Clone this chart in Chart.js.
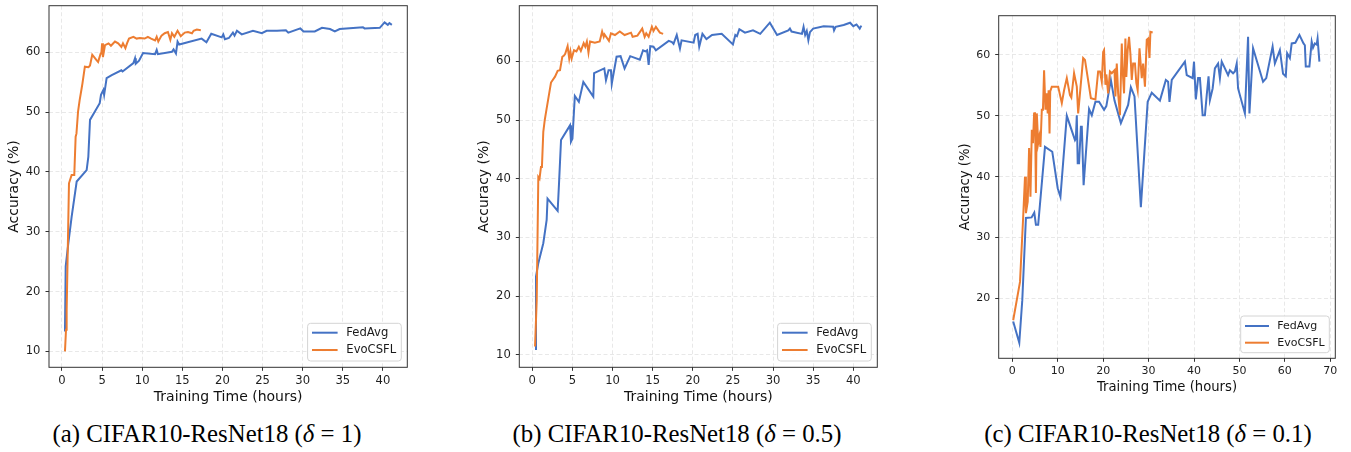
<!DOCTYPE html>
<html>
<head>
<meta charset="utf-8">
<script src="https://cdn.jsdelivr.net/npm/chart.js@4.4.1/dist/chart.umd.min.js"></script>
<style>
  body { margin: 0; width: 1351px; height: 452px; background: #fff; position: relative; overflow: hidden; }
  canvas { position: absolute; top: 0; }
  .caption { position: absolute; top: 420px; line-height: 28px; font-family: 'Liberation Serif', 'Times New Roman', serif;
             font-size: 24.8px; white-space: nowrap; transform: translateX(-50%); color: #000; }
</style>
</head>
<body>
<canvas id="chartA" width="450" height="406" style="left:0px"></canvas>
<canvas id="chartB" width="450" height="406" style="left:470px"></canvas>
<canvas id="chartC" width="401" height="395" style="left:950px"></canvas>
<div class="caption" style="left:207px">(a) CIFAR10-ResNet18 (<i>δ</i> = 1)</div>
<div class="caption" style="left:677px">(b) CIFAR10-ResNet18 (<i>δ</i> = 0.5)</div>
<div class="caption" style="left:1148px">(c) CIFAR10-ResNet18 (<i>δ</i> = 0.1)</div>
<script>
// ---- data ----
const seriesNames = ['FedAvg', 'EvoCSFL'];
const xTicksAB = [0, 5, 10, 15, 20, 25, 30, 35, 40];
const yTicksAB = [10, 20, 30, 40, 50, 60];
const xTicksC = [0, 10, 20, 30, 40, 50, 60, 70];
const yTicksC = [20, 30, 40, 50, 60];

// (a) delta = 1
const fedAvgA_hours = [0.37, 0.46, 0.79, 1.2, 1.83, 3.07, 3.28, 3.49, 4.1, 4.7, 4.86, 5.0, 5.15, 5.25, 5.56, 6.2, 7.4, 7.55, 8.9, 9.1, 9.2, 9.6, 10.1, 11.6, 11.8, 11.95, 13.7, 13.9, 14.2, 14.4, 14.6, 17.4, 18.0, 18.6, 19.9, 20.1, 20.3, 20.8, 21.3, 21.5, 21.8, 22.4, 23.8, 24.9, 25.5, 26.8, 27.9, 28.2, 29.7, 30.1, 31.5, 32.4, 33.4, 34.0, 34.6, 37.5, 37.7, 39.6, 40.2, 40.6, 40.8, 41.1];
const fedAvgA_acc   = [13.3, 24.2, 28.1, 32.5, 38.4, 40.3, 42.5, 48.7, 50.1, 51.5, 52.9, 53.3, 53.7, 52.9, 55.7, 56.2, 57.0, 56.8, 58.2, 59.0, 58.1, 58.6, 59.9, 59.7, 60.4, 59.7, 60.1, 60.5, 59.8, 61.8, 61.3, 62.3, 61.7, 63.1, 62.5, 63.0, 62.2, 62.4, 63.3, 62.8, 63.6, 63.0, 63.6, 63.2, 63.6, 63.6, 63.7, 63.3, 64.0, 63.5, 63.5, 64.1, 63.9, 63.5, 63.9, 64.2, 64.0, 64.1, 65.0, 64.6, 64.9, 64.6];
const evoA_hours = [0.37, 0.5, 0.58, 0.87, 1.2, 1.53, 1.7, 1.8, 2.0, 2.2, 2.45, 2.55, 2.85, 3.3, 3.49, 3.77, 4.3, 4.5, 4.82, 4.9, 5.0, 5.1, 5.36, 5.8, 6.1, 6.6, 7.0, 7.4, 7.6, 7.9, 8.1, 8.35, 8.9, 9.3, 9.7, 10.3, 10.7, 11.1, 11.6, 11.8, 12.0, 12.4, 12.8, 13.2, 13.5, 13.7, 14.0, 14.4, 14.8, 15.3, 15.7, 16.2, 16.4, 16.8, 17.3];
const evoA_acc   = [10.0, 13.6, 16.9, 38.1, 39.5, 39.5, 45.9, 46.4, 50.1, 52.0, 54.0, 54.8, 57.6, 57.5, 57.8, 59.6, 58.7, 58.4, 59.8, 59.8, 61.5, 59.2, 61.2, 61.5, 61.1, 61.8, 61.5, 60.9, 61.5, 60.7, 61.5, 62.3, 62.6, 62.3, 62.4, 62.3, 62.6, 62.3, 62.0, 62.6, 61.8, 62.8, 63.2, 63.4, 62.1, 63.2, 62.6, 63.6, 62.7, 63.3, 63.4, 63.2, 63.6, 63.8, 63.7];

// (b) delta = 0.5
const fedAvgB_hours = [0.46, 0.46, 0.75, 1.37, 1.79, 1.9, 3.16, 3.33, 3.58, 4.7, 4.82, 5.0, 5.3, 5.8, 6.36, 7.6, 7.7, 8.97, 9.18, 9.5, 9.8, 9.9, 10.5, 11.0, 11.5, 12.2, 13.4, 13.8, 14.1, 14.3, 14.5, 14.7, 15.1, 15.4, 17.0, 17.4, 17.6, 18.0, 18.4, 18.6, 20.1, 20.3, 20.6, 20.8, 21.2, 21.7, 22.4, 23.6, 25.0, 25.3, 25.5, 25.8, 26.5, 27.5, 28.4, 29.6, 30.5, 31.9, 32.1, 32.3, 33.6, 33.8, 34.0, 34.2, 34.4, 34.6, 35.0, 36.3, 37.5, 37.6, 37.8, 38.8, 39.6, 40.0, 40.4, 40.8, 41.0];
const fedAvgB_acc   = [10.8, 23.3, 25.6, 29.0, 33.0, 36.6, 34.5, 39.2, 46.6, 49.1, 46.3, 46.8, 54.1, 53.1, 56.5, 54.0, 58.0, 58.8, 56.8, 58.5, 58.5, 56.2, 60.8, 60.9, 58.8, 60.9, 60.3, 61.9, 61.7, 61.9, 59.4, 62.6, 62.5, 61.9, 63.5, 63.3, 63.0, 64.5, 62.2, 63.6, 63.2, 64.5, 64.7, 62.5, 64.7, 63.8, 64.5, 64.7, 62.9, 64.5, 64.3, 65.5, 64.9, 65.3, 64.7, 66.6, 64.5, 65.3, 65.6, 65.1, 64.7, 65.9, 64.5, 65.2, 63.6, 65.0, 65.6, 66.0, 65.9, 65.3, 65.9, 66.2, 66.6, 66.0, 66.3, 65.6, 66.1];
const evoB_hours = [0.34, 0.55, 0.75, 0.9, 1.08, 1.2, 1.37, 1.55, 1.79, 2.0, 2.33, 2.83, 3.16, 3.45, 3.74, 3.95, 4.1, 4.4, 4.6, 4.75, 4.9, 5.2, 5.5, 5.8, 6.05, 6.4, 6.6, 6.8, 7.0, 7.2, 7.8, 8.4, 8.7, 8.9, 9.0, 9.2, 9.55, 9.8, 10.3, 10.9, 11.5, 12.3, 12.5, 13.1, 13.7, 14.0, 14.2, 14.5, 14.9, 15.1, 15.4, 15.7, 15.9, 16.3];
const evoB_acc   = [11.4, 19.3, 40.3, 40.0, 42.0, 42.0, 48.0, 50.0, 52.0, 53.7, 56.4, 57.4, 58.4, 58.5, 60.8, 61.0, 61.3, 62.6, 60.5, 61.7, 60.5, 61.9, 61.7, 62.5, 61.8, 63.1, 62.5, 63.4, 61.5, 63.4, 63.2, 63.4, 65.1, 64.2, 64.6, 64.2, 63.5, 64.8, 64.5, 65.1, 64.5, 64.9, 64.2, 64.4, 65.6, 64.2, 64.8, 64.2, 65.9, 65.2, 65.9, 65.3, 64.9, 64.7];

// (c) delta = 0.1
const fedAvgC_hours = [0.2, 1.54, 2.2, 3.0, 4.25, 4.84, 5.2, 5.7, 7.2, 8.8, 10.0, 10.6, 12.0, 13.8, 14.0, 14.2, 14.4, 14.7, 15.1, 15.3, 15.7, 16.9, 17.5, 18.3, 19.1, 20.2, 20.7, 21.7, 22.5, 23.9, 25.5, 26.1, 26.9, 28.3, 29.8, 30.7, 32.5, 33.8, 34.3, 34.6, 35.1, 38.0, 38.4, 39.7, 40.0, 40.4, 40.9, 41.3, 41.9, 42.4, 42.8, 43.2, 43.5, 44.1, 44.6, 45.3, 45.7, 46.1, 47.5, 47.9, 48.6, 49.0, 49.4, 49.7, 51.2, 51.9, 52.2, 53.0, 55.2, 55.9, 57.3, 57.8, 58.9, 59.6, 60.2, 60.5, 61.1, 61.5, 62.3, 63.2, 64.1, 64.4, 64.6, 65.4, 65.9, 66.2, 66.6, 67.0, 67.2, 67.6];
const fedAvgC_acc   = [16.2, 12.7, 19.7, 33.2, 33.3, 34.1, 32.1, 32.1, 44.9, 44.1, 38.1, 36.7, 50.0, 46.0, 46.3, 50.1, 42.2, 42.2, 48.2, 48.2, 38.6, 51.1, 50.1, 52.3, 52.3, 51.0, 51.6, 55.9, 52.5, 48.8, 51.8, 54.7, 53.2, 35.0, 52.3, 53.8, 52.5, 55.9, 55.6, 52.3, 55.9, 58.9, 56.7, 56.2, 58.9, 52.7, 56.2, 56.2, 50.1, 50.1, 53.4, 56.5, 52.6, 54.5, 57.8, 58.6, 56.2, 58.9, 56.7, 57.5, 57.0, 57.3, 58.6, 54.5, 50.4, 63.0, 50.4, 61.1, 55.6, 56.2, 61.4, 58.6, 60.8, 56.9, 56.5, 60.3, 59.5, 61.9, 62.0, 63.3, 61.9, 61.6, 58.1, 58.1, 62.2, 61.2, 61.9, 61.7, 62.7, 58.9];
const evoC_hours = [0.2, 1.7, 2.4, 2.8, 3.0, 3.4, 3.7, 4.0, 4.3, 4.55, 4.8, 5.0, 5.2, 5.4, 5.7, 5.95, 6.2, 6.5, 6.75, 7.0, 7.3, 7.55, 7.8, 8.0, 8.2, 8.35, 8.7, 10.1, 10.9, 11.4, 12.0, 12.7, 13.0, 13.6, 14.2, 14.5, 15.6, 16.0, 17.3, 18.3, 18.9, 19.3, 19.7, 20.0, 20.2, 20.5, 20.7, 21.1, 21.5, 21.9, 22.5, 22.7, 23.0, 23.3, 23.7, 24.1, 24.3, 24.6, 24.9, 25.1, 25.4, 25.7, 26.0, 26.3, 26.6, 27.0, 27.3, 27.6, 28.0, 28.5, 28.8, 29.2, 29.6, 29.9, 30.2, 30.4, 30.9];
const evoC_acc   = [16.4, 22.7, 33.4, 40.0, 34.0, 35.9, 44.7, 36.7, 47.7, 45.5, 50.4, 50.6, 37.3, 50.4, 45.5, 46.6, 44.9, 51.0, 51.0, 57.5, 51.0, 53.7, 50.4, 54.2, 47.1, 54.0, 54.8, 54.8, 52.1, 54.2, 56.2, 53.4, 53.0, 57.0, 54.8, 50.4, 59.5, 59.2, 52.9, 52.7, 57.3, 57.3, 55.6, 60.5, 60.8, 55.1, 56.8, 53.7, 57.3, 57.0, 57.5, 53.2, 58.6, 53.7, 50.1, 61.9, 57.5, 53.7, 62.7, 56.4, 60.8, 63.0, 60.2, 55.9, 58.6, 58.6, 55.4, 54.2, 61.1, 56.2, 58.6, 54.8, 62.5, 62.7, 59.5, 63.8, 63.7];

// ---- styling ----
const BLUE = '#4472c4';
const ORANGE = '#ed7d31';
const FONT = "'DejaVu Sans', sans-serif";

const toPoints = (xs, ys) => xs.map((x, i) => ({x: x, y: ys[i]}));

const frameLegend = {
  id: 'frameLegend',
  afterDatasetsDraw(chart) {
    const {ctx, chartArea: a} = chart;
    ctx.save();
    ctx.strokeStyle = '#333';
    ctx.lineWidth = 1;
    ctx.strokeRect(a.left, a.top, a.right - a.left, a.bottom - a.top);
    ctx.restore();
  },
  afterDraw(chart, args, opts) {
    const {ctx, chartArea: a} = chart;
    const x0 = a.right - opts.gapRight - opts.boxW;
    const y0 = a.bottom - opts.gapBottom - opts.boxH;
    ctx.save();
    ctx.beginPath();
    ctx.roundRect(x0, y0, opts.boxW, opts.boxH, 3);
    ctx.fillStyle = 'rgba(255,255,255,0.85)';
    ctx.fill();
    ctx.strokeStyle = '#d4d4d4';
    ctx.lineWidth = 1;
    ctx.stroke();
    ctx.font = `${opts.fontSize}px ${FONT}`;
    ctx.textBaseline = 'middle';
    ctx.textAlign = 'left';
    chart.data.datasets.forEach((ds, i) => {
      const y = y0 + opts.row0 + i * opts.rowGap;
      ctx.strokeStyle = ds.borderColor;
      ctx.lineWidth = 2;
      ctx.beginPath();
      ctx.moveTo(x0 + opts.lineX, y);
      ctx.lineTo(x0 + opts.lineX + opts.lineLen, y);
      ctx.stroke();
      ctx.fillStyle = '#1a1a1a';
      ctx.fillText(ds.label, x0 + opts.textX, y);
    });
    ctx.restore();
  }
};

function makeChart(p) {
  const gridOpts = {color: '#e2e2e2', lineWidth: 0.8, tickLength: 3.5, tickColor: '#333', tickWidth: 1, tickBorderDash: []};
  new Chart(document.getElementById(p.id), {
    type: 'line',
    data: {
      datasets: [
        {label: seriesNames[0], data: toPoints(p.fedX, p.fedY), borderColor: BLUE, borderWidth: 2,
         pointRadius: 0, tension: 0, order: 1},
        {label: seriesNames[1], data: toPoints(p.evoX, p.evoY), borderColor: ORANGE, borderWidth: 2,
         pointRadius: 0, tension: 0, order: 0}
      ]
    },
    options: {
      responsive: false,
      animation: false,
      layout: {padding: {left: 0, top: p.top, right: p.right, bottom: 0}},
      plugins: {
        legend: {display: false},
        tooltip: {enabled: false},
        frameLegend: p.legend
      },
      scales: {
        x: {
          type: 'linear', min: p.xMin, max: p.xMax,
          afterBuildTicks: s => { s.ticks = p.xTicks.map(v => ({value: v})); },
          afterFit: s => { s.height = p.xAxisH; s.paddingLeft = 0; s.paddingRight = 0; },
          grid: gridOpts,
          border: {display: false, dash: [4, 2.5]},
          ticks: {autoSkip: false, maxRotation: 0, padding: p.xTickPad, color: '#1e1e1e',
                  font: {family: FONT, size: p.tickSize, lineHeight: 1.2}},
          title: {display: true, text: 'Training Time (hours)', color: '#111', padding: 0,
                  font: {family: FONT, size: p.titleSize, lineHeight: 1.2}}
        },
        y: {
          type: 'linear', min: p.yMin, max: p.yMax,
          afterBuildTicks: s => { s.ticks = p.yTicks.map(v => ({value: v})); },
          afterFit: s => { s.width = p.yAxisW; s.paddingTop = 0; s.paddingBottom = 0; },
          grid: gridOpts,
          border: {display: false, dash: [4, 2.5]},
          ticks: {autoSkip: false, padding: 5, color: '#1e1e1e',
                  font: {family: FONT, size: p.tickSize, lineHeight: 1.2}},
          title: {display: true, text: 'Accuracy (%)', color: '#111', padding: {top: p.yTitlePad, bottom: 0},
                  font: {family: FONT, size: p.titleSize, lineHeight: 1.2}}
        }
      }
    },
    plugins: [frameLegend]
  });
}

const legendAB = {boxW: 93.7, boxH: 37.7, gapRight: 6, gapBottom: 6.3, row0: 9.4, rowGap: 17.3,
                  lineX: 4.4, lineLen: 25.6, textX: 38.7, fontSize: 11.6};
const legendC = {boxW: 88.6, boxH: 36.7, gapRight: 6, gapBottom: 5.6, row0: 10, rowGap: 16.7,
                 lineX: 4.3, lineLen: 24, textX: 36.6, fontSize: 11};

makeChart({id: 'chartA', top: 5.7, right: 42.7, yAxisW: 49, xAxisH: 38.7,
  xMin: -1.62, xMax: 43.03, yMin: 7.33, yMax: 67.8, xTicks: xTicksAB, yTicks: yTicksAB,
  fedX: fedAvgA_hours, fedY: fedAvgA_acc, evoX: evoA_hours, evoY: evoA_acc,
  tickSize: 11.6, titleSize: 14, xTickPad: 3, yTitlePad: 5.8, legend: legendAB});

makeChart({id: 'chartB', top: 5.7, right: 42.7, yAxisW: 49.3, xAxisH: 38.7,
  xMin: -1.62, xMax: 42.99, yMin: 7.85, yMax: 69.5, xTicks: xTicksAB, yTicks: yTicksAB,
  fedX: fedAvgB_hours, fedY: fedAvgB_acc, evoX: evoB_hours, evoY: evoB_acc,
  tickSize: 11.6, titleSize: 14, xTickPad: 3, yTitlePad: 5.8, legend: legendAB});

makeChart({id: 'chartC', top: 15.7, right: 15.7, yAxisW: 48.7, xAxisH: 36.7,
  xMin: -2.99, xMax: 71.1, yMin: 10.14, yMax: 66.46, xTicks: xTicksC, yTicks: yTicksC,
  fedX: fedAvgC_hours, fedY: fedAvgC_acc, evoX: evoC_hours, evoY: evoC_acc,
  tickSize: 11, titleSize: 13.2, xTickPad: 2.4, yTitlePad: 7.2, legend: legendC});
</script>
</body>
</html>
